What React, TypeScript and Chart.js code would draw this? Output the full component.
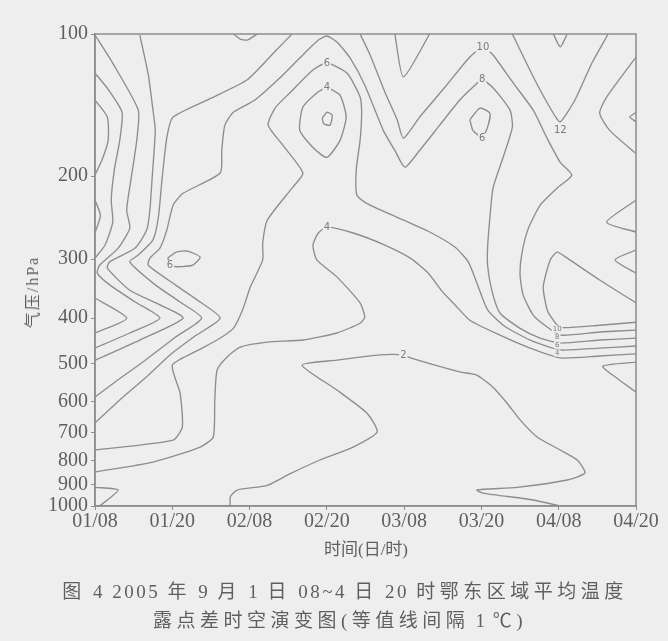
import { useEffect, useRef } from 'react';
import { Chart, registerables } from 'chart.js';

Chart.register(...registerables);

// ---- axes ----
const X_TICK_LABELS = ['01/08', '01/20', '02/08', '02/20', '03/08', '03/20', '04/08', '04/20'];
const Y_TICK_VALUES = [100, 200, 300, 400, 500, 600, 700, 800, 900, 1000];

// ---- contour lines: [time index (12h steps from 01/08), pressure hPa] ----
type Pt = [number, number];

const C_2: Pt[] = [[1.75,1000],[1.75,957],[1.84,925],[2.23,904],[2.52,855],[2.91,799],[3.34,750],[3.65,697],[3.52,636],[3.13,568],[2.68,503],[3.13,491],[3.69,478.6],[3.99,478.6],[4.08,485.6],[4.72,520],[4.94,528],[5.15,560],[5.33,605],[5.5,657],[5.72,714],[6.02,761],[6.24,799],[6.34,851],[6.11,881],[5.46,913],[4.94,925],[5.02,939],[5.67,971],[6.02,1000]];
const C_4: Pt[] = [[0,847],[0.75,807],[1.36,750],[1.53,714],[1.55,596],[1.58,515],[1.71,483.3],[1.88,460.5],[2.23,449.5],[2.69,445],[3.13,430],[3.43,410],[3.49,398],[3.43,371.3],[3.13,327],[2.87,301],[2.82,280],[2.89,264],[3.0,256.6],[3.34,264],[3.75,280],[4.08,298.5],[4.31,321],[4.5,352.3],[4.66,375],[4.85,404],[5.24,434.5],[5.63,462.8],[6.02,485.6],[6.53,481],[7,476]];
const C_6: Pt[] = [[0,761],[1.01,725],[1.13,680],[1.1,576],[1.0,503],[1.29,471.6],[1.58,445],[1.79,420.5],[1.91,384],[2.01,343.5],[2.17,301],[2.17,277],[2.23,248],[2.56,211],[2.69,197],[2.43,172],[2.24,156],[2.33,143.5],[2.52,133.3],[2.82,119.2],[3.0,115.2],[3.26,121],[3.43,136],[3.45,147.2],[3.43,168],[3.38,194],[3.39,219.5],[3.56,230.5],[3.91,244.5],[4.33,262.7],[4.66,283],[4.83,304],[4.96,343.5],[5.08,384],[5.3,416],[5.63,445],[6.02,467],[6.53,462.8],[7,458.2]];
const C_8: Pt[] = [[0,667],[0.32,596],[0.65,535.7],[0.97,478.6],[1.29,437],[1.62,400],[1.36,369.6],[1.04,340],[0.69,309],[0.71,298.5],[0.84,284.2],[0.93,260],[1.01,230.5],[1.14,217.5],[1.62,197],[1.64,176.5],[1.68,156],[1.79,146.5],[2.07,138],[2.39,124],[2.65,112.4],[2.89,103],[3.0,101],[3.13,104],[3.3,112.4],[3.49,128.2],[3.73,160],[3.88,176.5],[4.01,191.5],[4.2,176.5],[4.46,156],[4.72,138],[4.92,128.2],[5.01,125],[5.15,130],[5.37,145],[5.4,157.5],[5.28,182.6],[5.15,212],[5.11,244.5],[5.08,283],[5.08,309],[5.14,352.3],[5.24,390],[5.5,420.5],[5.76,441],[6.02,451.6],[6.53,445],[7,441]];
const C_10: Pt[] = [[3.43,100],[3.56,110.8],[3.75,132.7],[3.91,152],[3.99,166.3],[4.2,150],[4.53,129.5],[4.85,111.9],[5.02,106.5],[5.15,110.8],[5.41,126.9],[5.67,145],[5.85,166.3],[6.02,187],[6.17,199],[5.98,212],[5.76,230.5],[5.6,260],[5.52,294],[5.5,324],[5.54,357.5],[5.67,394],[5.82,414],[6.02,434.5],[6.53,428],[7,424]];
const C_12_PEAK: Pt[] = [[7,371.3],[6.53,332],[6.11,298.5],[5.98,289.8],[5.89,301],[5.8,343.5],[5.85,384],[5.93,404],[6.02,418.5],[6.53,414],[7,408]];
const C_12_TOP: Pt[] = [[5.4,100],[5.69,125],[5.93,147.2],[6.02,153.5],[6.21,138],[6.43,115.2],[6.64,100]];
const C_14_TOP: Pt[] = [[5.93,100],[6.02,106.5],[6.11,100]];
const C_TOP_V: Pt[] = [[3.88,100],[3.99,123.3],[4.33,100]];
const C_TOP_LEFT: Pt[] = [[1.79,100],[1.88,102.5],[1.97,103],[2.1,100]];
const C_DIAMOND_4: Pt[] = [[3.0,129.5],[3.17,134.7],[3.25,150],[3.17,168],[3.0,182.6],[2.82,174],[2.65,160],[2.69,142.8],[2.87,133.3],[3.0,129.5]];
const C_DIAMOND_CORE: Pt[] = [[2.94,150.9],[3.0,146.5],[3.07,148.6],[3.04,156],[2.96,155],[2.94,150.9]];
const C_LOOP_6_RIGHT: Pt[] = [[4.85,152],[4.98,143.5],[5.11,147.2],[5.08,157.5],[5.01,165.5],[4.89,160],[4.85,152]];
const C_LOOP_6_LEFT: Pt[] = [[0.94,298.5],[1.05,289.8],[1.2,288.4],[1.36,297],[1.26,309],[1.0,310.5],[0.94,298.5]];
const C_LEFT_A: Pt[] = [[0,138],[0.16,150],[0.17,168],[0.09,185],[0,199]];
const C_LEFT_B: Pt[] = [[0,225],[0.07,242],[0,264]];
const C_LEFT_C: Pt[] = [[0,121],[0.17,131],[0.35,146.5],[0.32,168],[0.25,194],[0.21,225],[0.23,250],[0.13,280],[0,298.5]];
const C_V1: Pt[] = [[0,362.6],[0.41,400],[0,430]];
const C_V2: Pt[] = [[0,100.5],[0.22,114.6],[0.56,145],[0.54,168],[0.47,201],[0.41,236],[0.45,257.7],[0.3,284.2],[0.06,309],[0.03,321],[0.19,340],[0.52,369.6],[0.84,400],[0.45,430],[0,462.8]];
const C_V3: Pt[] = [[0.58,100.5],[0.69,122.1],[0.75,145],[0.78,160],[0.74,201],[0.71,236],[0.67,260],[0.52,284.2],[0.19,304],[0.16,313.5],[0.45,349],[0.84,375],[1.14,400],[0.58,445],[0,491]];
const C_V4: Pt[] = [[2.55,100],[2.35,108],[1.97,125],[1.45,138],[1.01,150],[0.93,165.5],[0.87,201],[0.82,244.5],[0.75,273],[0.56,294],[0.45,304],[0.78,340],[1.1,369.6],[1.38,400],[1.04,439],[0.62,495.5],[0.26,546],[0,587.5]];
const C_BOTTOM_LEFT: Pt[] = [[0,913],[0.3,925],[0.06,1000]];
const C_RIGHT_A: Pt[] = [[7,111.9],[6.62,136],[6.53,147.2],[6.66,160],[7,179.2]];
const C_RIGHT_B: Pt[] = [[7,146.5],[6.92,150],[7,153.5]];
const C_RIGHT_C: Pt[] = [[7,225],[6.62,250.4],[7,262.7]];
const C_RIGHT_D: Pt[] = [[7,287],[6.73,301],[7,321]];
const C_RIGHT_E: Pt[] = [[7,495.5],[6.57,505.5],[6.75,535.7],[7,573.6]];

const CONTOURS: Pt[][] = [
  C_2, C_4, C_6, C_8, C_10, C_12_PEAK, C_12_TOP, C_14_TOP, C_TOP_V, C_TOP_LEFT,
  C_DIAMOND_4, C_DIAMOND_CORE, C_LOOP_6_RIGHT, C_LOOP_6_LEFT, C_LEFT_A, C_LEFT_B,
  C_LEFT_C, C_V1, C_V2, C_V3, C_V4, C_BOTTOM_LEFT, C_RIGHT_A, C_RIGHT_B, C_RIGHT_C,
  C_RIGHT_D, C_RIGHT_E,
];

// ---- contour value labels ----
const LABEL_T = [5.02, 5.01, 5.01, 6.02, 3.0, 3.0, 3.0, 0.97, 3.99];
const LABEL_P = [106.5, 125, 166.3, 160, 115.2, 129.5, 256.6, 309, 478.6];
const LABEL_TEXT = ['10', '8', '6', '12', '6', '4', '4', '6', '2'];

const STACK_T = [5.98, 5.98, 5.98, 5.98];
const STACK_P = [422, 439, 456, 474];
const STACK_TEXT = ['10', '8', '6', '4'];

// ---- caption text ----
const Y_TITLE = '气压/hPa';
const X_TITLE = '时间(日/时)';
const CAPTION_1 = ['图', ' 4 2005 ', '年', ' 9 ', '月', ' 1 ', '日', ' 08~4 ', '日', ' 20 ', '时鄂东区域平均温度'];
const CAPTION_2 = ['露点差时空演变图(等值线间隔', ' 1 ', '℃)'];

const BG = '#eeeeee';
const LINE = '#8d8d8d';
const TEXT = '#5f5f5f';

const framePlugin = {
  id: 'frame',
  afterDatasetsDraw(chart: any) {
    const { ctx, chartArea: a } = chart;
    ctx.save();
    ctx.strokeStyle = LINE;
    ctx.lineWidth = 1.5;
    ctx.strokeRect(a.left, a.top, a.right - a.left, a.bottom - a.top);
    ctx.restore();
  },
};

const labelPlugin = {
  id: 'contourLabels',
  afterDatasetsDraw(chart: any) {
    const { ctx } = chart;
    const xs = chart.scales.x;
    const ys = chart.scales.y;
    ctx.save();
    ctx.textAlign = 'center';
    ctx.textBaseline = 'middle';
    const draw = (t: number, p: number, txt: string, size: number) => {
      ctx.font = `${size}px "DejaVu Sans", sans-serif`;
      const px = xs.getPixelForValue(t);
      const py = ys.getPixelForValue(p);
      const w = ctx.measureText(txt).width;
      ctx.fillStyle = BG;
      ctx.fillRect(px - w / 2 - 1, py - size / 2, w + 2, size);
      ctx.fillStyle = '#7a7a7a';
      ctx.fillText(txt, px, py);
    };
    LABEL_TEXT.forEach((txt, i) => draw(LABEL_T[i], LABEL_P[i], txt, 10));
    STACK_TEXT.forEach((txt, i) => draw(STACK_T[i], STACK_P[i], txt, 7));
    ctx.restore();
  },
};

const isCjk = (s: string) => /[\u3000-\u9fff\uff00-\uffef℃]/.test(s);

function Caption({ parts, left, top, latinSpacing }: { parts: string[]; left: number; top: number; latinSpacing: number }) {
  return (
    <div
      style={{
        position: 'absolute', left, top, transform: 'translateX(-50%)', whiteSpace: 'pre',
        fontFamily: '"Liberation Serif", "Noto Sans CJK SC", serif', color: TEXT, lineHeight: 1,
      }}
    >
      {parts.map((s, i) => (
        <span key={i} style={isCjk(s) ? { fontSize: 19, letterSpacing: 4.5 } : { fontSize: 19, letterSpacing: latinSpacing }}>
          {s}
        </span>
      ))}
    </div>
  );
}

export default function App() {
  const canvasRef = useRef<HTMLCanvasElement | null>(null);

  useEffect(() => {
    if (!canvasRef.current) return;
    const chart = new Chart(canvasRef.current, {
      type: 'line',
      data: {
        datasets: CONTOURS.map((pts) => ({
          data: pts.map(([t, p]) => ({ x: t, y: p })),
          borderColor: LINE,
          borderWidth: 1.35,
          pointRadius: 0,
          tension: 0.2,
          fill: false,
        })),
      },
      options: {
        animation: false,
        responsive: true,
        maintainAspectRatio: false,
        layout: { padding: { left: 0, right: 32, top: 34, bottom: 75 } },
        plugins: { legend: { display: false }, tooltip: { enabled: false } },
        scales: {
          x: {
            type: 'linear',
            min: 0,
            max: 7,
            afterBuildTicks: (scale: any) => {
              scale.ticks = X_TICK_LABELS.map((_, i) => ({ value: i }));
            },
            afterFit: (scale: any) => {
              scale.height = 60;
            },
            ticks: {
              autoSkip: false,
              maxRotation: 0,
              padding: 0,
              color: TEXT,
              font: { family: '"Liberation Serif", serif', size: 20 },
              callback: (v: any) => X_TICK_LABELS[Math.round(Number(v))] ?? '',
            },
            grid: { display: true, drawOnChartArea: false, drawTicks: true, tickLength: 4, color: LINE },
            border: { display: true, color: LINE, width: 1.5 },
          },
          y: {
            type: 'logarithmic',
            reverse: true,
            min: 100,
            max: 1000,
            afterBuildTicks: (scale: any) => {
              scale.ticks = Y_TICK_VALUES.map((v) => ({ value: v }));
            },
            afterFit: (scale: any) => {
              scale.width = 95;
            },
            ticks: {
              autoSkip: false,
              padding: 3,
              color: TEXT,
              font: { family: '"Liberation Serif", serif', size: 20 },
              callback: (v: any) => String(v),
            },
            grid: { display: true, drawOnChartArea: false, drawTicks: true, tickLength: 4, color: LINE },
            border: { display: true, color: LINE, width: 1.5 },
          },
        },
      },
      plugins: [framePlugin, labelPlugin],
    } as any);
    return () => chart.destroy();
  }, []);

  const serif = '"Liberation Serif", "Noto Sans CJK SC", serif';

  return (
    <div style={{ position: 'absolute', left: 0, top: 0, width: 668, height: 641, background: BG, overflow: 'hidden' }}>
      <canvas ref={canvasRef} style={{ position: 'absolute', left: 0, top: 0 }} />
      <div
        style={{
          position: 'absolute', left: 33, top: 292, transform: 'translate(-50%, -50%) rotate(-90deg)',
          whiteSpace: 'nowrap', fontFamily: serif, fontSize: 16, color: TEXT, lineHeight: 1, letterSpacing: 2,
        }}
      >
        {Y_TITLE}
      </div>
      <div
        style={{
          position: 'absolute', left: 366, top: 541, transform: 'translateX(-50%)', whiteSpace: 'nowrap',
          fontFamily: serif, fontSize: 17, color: TEXT, lineHeight: 1,
        }}
      >
        {X_TITLE}
      </div>
      <Caption parts={CAPTION_1} left={345} top={582} latinSpacing={2.5} />
      <Caption parts={CAPTION_2} left={340} top={611} latinSpacing={1.5} />
    </div>
  );
}
